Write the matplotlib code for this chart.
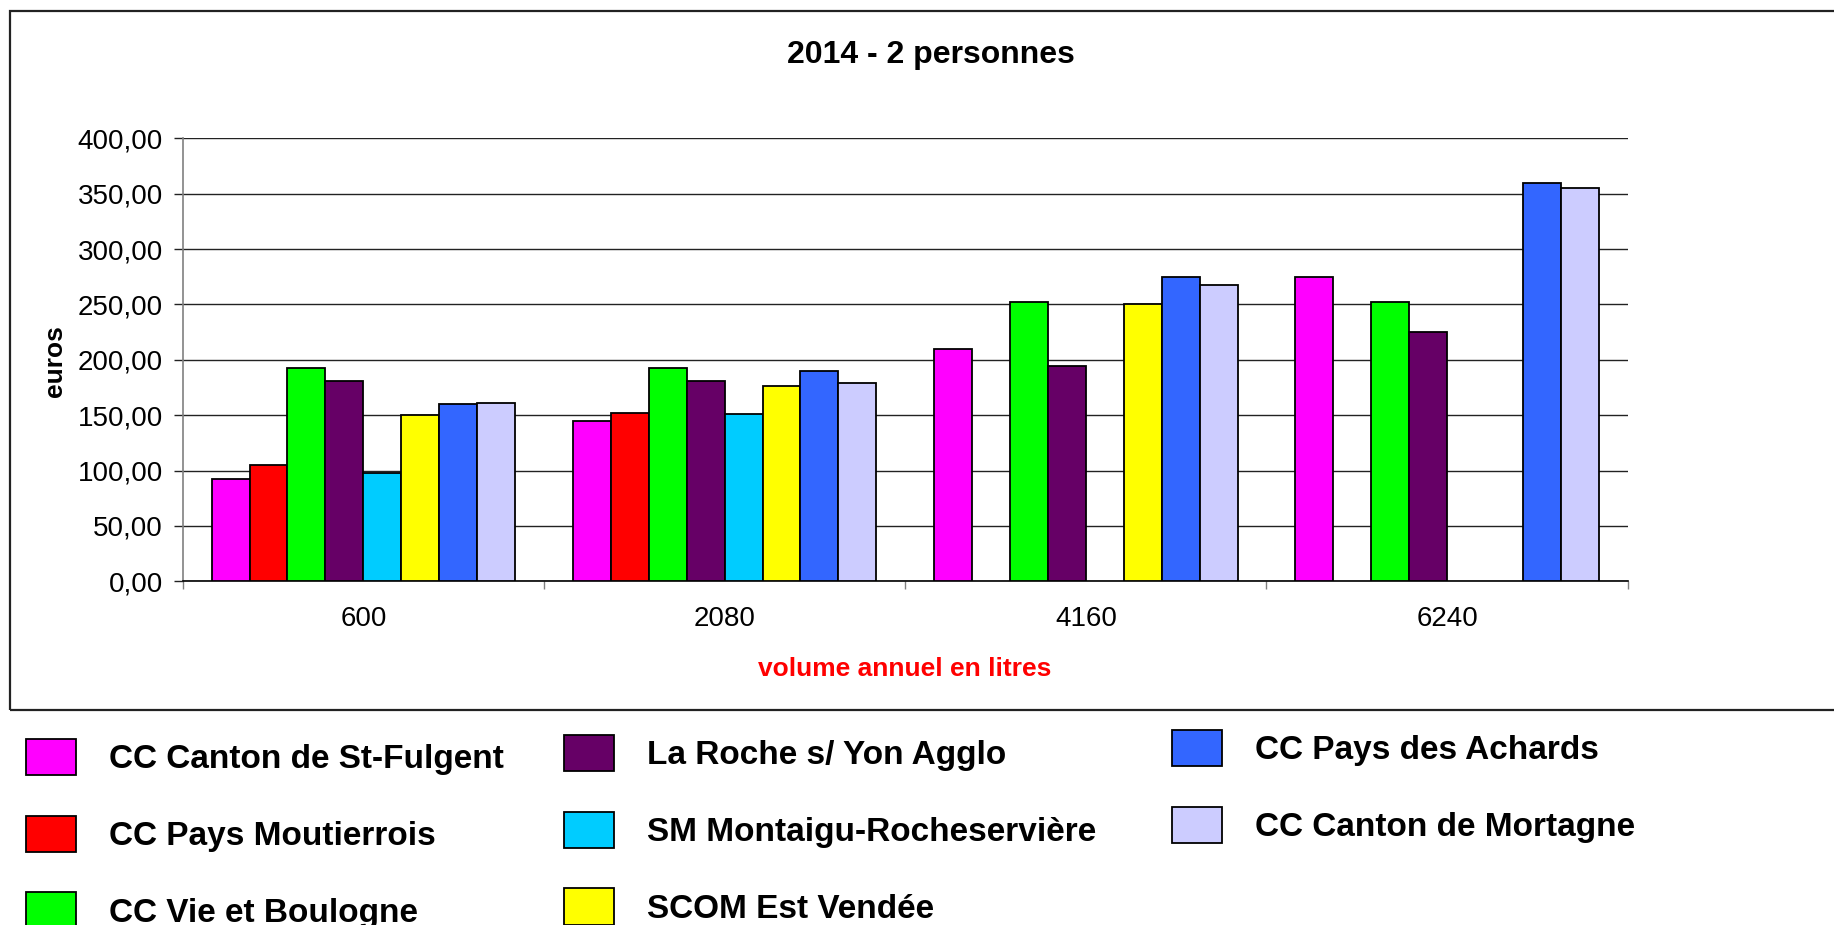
import numpy as np
import matplotlib
matplotlib.use("Agg")
import matplotlib.pyplot as plt
from matplotlib.patches import Rectangle

plt.rcParams['font.family'] = ['Liberation Sans', 'DejaVu Sans']

# Données (euros)
volumes = ['600', '2080', '4160', '6240']
series_names = ['CC Canton de St-Fulgent', 'CC Pays Moutierrois', 'CC Vie et Boulogne',
                'La Roche s/ Yon Agglo', 'SM Montaigu-Rocheservière', 'SCOM Est Vendée',
                'CC Pays des Achards', 'CC Canton de Mortagne']
series_colors = ['#FF00FF', '#FF0000', '#00FF00', '#660066',
                 '#00CCFF', '#FFFF00', '#3366FF', '#CCCCFF']
st_fulgent = [92.0, 145.0, 209.5, 274.5]
moutierrois = [105.0, 152.0, np.nan, np.nan]
vie_boulogne = [192.5, 192.5, 252.0, 252.0]
la_roche = [180.5, 180.5, 194.0, 225.5]
montaigu = [98.0, 151.5, np.nan, np.nan]
scom = [150.5, 176.5, 250.0, np.nan]
achards = [160.0, 189.5, 275.0, 360.0]
mortagne = [161.0, 179.0, 267.5, 355.0]
values = [st_fulgent, moutierrois, vie_boulogne, la_roche, montaigu, scom, achards, mortagne]

yticks = [0, 50, 100, 150, 200, 250, 300, 350, 400]
ytick_labels = ['0,00', '50,00', '100,00', '150,00', '200,00', '250,00', '300,00', '350,00', '400,00']

fig = plt.figure(figsize=(18.34, 9.25), dpi=100)
ax = fig.add_axes([0.09962, 0.37157, 0.78789, 0.47892])

W, H = 1834, 925

# cadre extérieur
fig.patches.append(Rectangle((10 / W, 1 - 709.5 / H), 1.2, (709.5 - 10.5) / H,
                             transform=fig.transFigure, fill=False,
                             edgecolor='#222222', linewidth=1.6, zorder=0))

x = np.arange(len(volumes))
w = 0.105
handles = []
for j, (name, col, vals) in enumerate(zip(series_names, series_colors, values)):
    b = ax.bar(x + (j - 3.5) * w, vals, width=w, color=col, edgecolor='black',
               linewidth=1.3, label=name, zorder=3)
    handles.append(b)

ax.set_xlim(-0.5, len(volumes) - 0.5)
ax.set_ylim(0, 400)
ax.set_yticks(yticks)
ax.set_yticklabels(ytick_labels, fontsize=20)
ax.yaxis.grid(True, color='#222222', linewidth=1.0, zorder=0)
ax.set_axisbelow(True)
ax.tick_params(axis='y', length=6.3, width=1.0, color='#222222', pad=8)

ax.set_xticks(x)
ax.set_xticklabels(volumes, fontsize=20)
ax.set_xticks(np.arange(len(volumes) + 1) - 0.5, minor=True)
ax.tick_params(axis='x', which='major', length=0, pad=18)
ax.tick_params(axis='x', which='minor', length=6, width=1.0, color='#808080')

for s in ['top', 'right']:
    ax.spines[s].set_visible(False)
ax.spines['left'].set_color('#808080')
ax.spines['left'].set_linewidth(1.2)
ax.spines['bottom'].set_color('black')
ax.spines['bottom'].set_linewidth(1.2)

fig.text(931 / W, 1 - 63 / H, '2014 - 2 personnes', ha='center', va='baseline',
         fontsize=23, fontweight='bold')
fig.text(55 / W, 1 - 361 / H, 'euros', ha='center', va='center', rotation=90,
         fontsize=19, fontweight='bold')
fig.text(905 / W, 1 - 676 / H, 'volume annuel en litres', ha='center', va='baseline',
         fontsize=19, fontweight='bold', color='red')

# légende en trois colonnes
columns = [(handles[0:3], (26, 739)), (handles[3:6], (564, 735)), (handles[6:8], (1172, 730))]
for hs, (px, py) in columns:
    fig.legend(hs, [h.get_label() for h in hs], loc='upper left',
               bbox_to_anchor=(px / W, 1 - py / H), frameon=False,
               prop={'size': 24, 'weight': 'bold'}, borderpad=0, borderaxespad=0,
               handlelength=1.5, handleheight=1.3, handletextpad=1.0,
               labelspacing=1.21)

fig.savefig('out.png', dpi=100)
